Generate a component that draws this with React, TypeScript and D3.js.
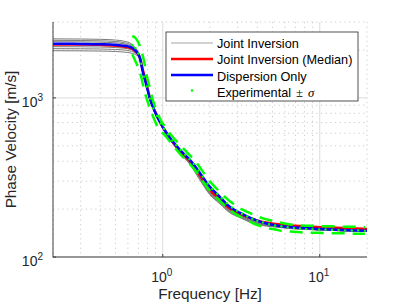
import React from 'react';
import * as d3 from 'd3';

const W = 407;
const H = 305;
const margin = { left: 53, right: 40, top: 22, bottom: 48 };

// model curves share one frequency grid [Hz]
const freq = [0.2, 0.3, 0.4, 0.5, 0.57, 0.63, 0.66, 0.69, 0.714, 0.746, 0.787, 0.826, 0.889, 0.981, 1.108, 1.283, 1.486, 1.72, 1.99, 2.31, 2.67, 3.09, 3.58, 4.15, 5.3, 7, 10, 14, 20];
const dispersionOnly = [2190, 2185, 2175, 2155, 2125, 2075, 2010, 1920, 1790, 1460, 1200, 1000, 825, 680, 563, 473, 409, 339, 277, 239, 207, 190, 177, 167, 158, 153, 150, 148, 146];
const jointMedian = [2170, 2165, 2155, 2130, 2095, 2045, 1985, 1905, 1800, 1510, 1230, 1010, 830, 680, 560, 468, 402, 328, 265, 230, 202, 187, 176, 168, 161, 157, 154, 152, 150];
const jointRuns = [
    [2350, 2345, 2335, 2310, 2270, 2190, 2100, 1980, 1830, 1480, 1200, 995, 815, 670, 555, 462, 396, 322, 262, 228, 199, 184, 172, 164, 156, 152, 149, 147, 145],
    [2300, 2295, 2285, 2262, 2225, 2150, 2070, 1965, 1820, 1475, 1195, 990, 812, 668, 552, 460, 393, 318, 258, 225, 197, 182, 170, 162, 155, 151, 148, 146, 145],
    [2255, 2250, 2240, 2220, 2185, 2120, 2045, 1950, 1810, 1470, 1190, 988, 810, 666, 550, 457, 390, 314, 255, 222, 195, 181, 169, 161, 155, 151, 148, 147, 145],
    [2100, 2096, 2088, 2072, 2050, 2010, 1965, 1900, 1790, 1475, 1195, 992, 815, 670, 553, 458, 390, 313, 252, 220, 193, 180, 168, 161, 156, 152, 149, 147, 146],
    [2040, 2036, 2030, 2016, 1998, 1965, 1930, 1875, 1775, 1465, 1190, 988, 812, 668, 550, 455, 386, 310, 250, 218, 191, 178, 167, 160, 155, 151, 148, 146, 145],
    [1980, 1976, 1970, 1958, 1940, 1912, 1885, 1840, 1755, 1455, 1185, 985, 808, 665, 548, 452, 383, 306, 247, 216, 190, 177, 166, 159, 154, 150, 148, 146, 145],
];

// experimental picks and +/- sigma bounds
const expFreq = [0.64, 0.67, 0.70, 0.73, 0.76, 0.79, 0.83, 0.87, 0.92, 0.97, 1.02, 1.08, 1.15, 1.22, 1.3, 1.39, 1.48, 1.58, 1.69, 1.8, 1.93, 2.07, 2.22, 2.38, 2.56, 2.76, 2.97, 3.2, 3.45, 3.72, 4.0, 4.35, 4.75, 5.2, 5.7, 6.25, 6.85, 7.5, 8.2, 9.0, 9.9, 10.9, 12, 13.2, 14.5, 16, 17.6, 19.4];
const expVel = [2150, 2060, 1900, 1640, 1360, 1180, 990, 860, 770, 690, 640, 590, 540, 505, 470, 440, 412, 385, 350, 320, 290, 268, 250, 234, 218, 205, 195, 187, 180, 174, 169, 165, 161, 158, 156, 154, 152, 151, 150, 150, 149, 149, 148, 148, 147, 147, 147, 146];
const expUpper = [2450, 2380, 2230, 1990, 1700, 1390, 1140, 950, 820, 725, 670, 620, 572, 536, 500, 468, 438, 410, 376, 344, 311, 287, 267, 250, 233, 219, 208, 199, 192, 186, 180, 175, 171, 167, 164, 161, 159, 158, 157, 157, 156, 156, 156, 155, 155, 155, 155, 154];
const expLower = [1880, 1700, 1540, 1350, 1130, 990, 860, 760, 670, 620, 590, 552, 508, 474, 440, 412, 386, 360, 328, 300, 272, 251, 234, 219, 205, 193, 184, 177, 170, 164, 159, 155, 151, 149, 146, 145, 144, 143, 142, 142, 142, 141, 141, 141, 141, 140, 140, 140];

const xMajor = [1, 10];
const xMajorExp = ['0', '1'];
const yMajor = [100, 1000];
const yMajorExp = ['2', '3'];

const legendLabels = ['Joint Inversion', 'Joint Inversion (Median)', 'Dispersion Only', 'Experimental'];

const FONT = '"Liberation Sans", Arial, Helvetica, sans-serif';

const isDecade = (t: number) => Math.abs(Math.log10(t) - Math.round(Math.log10(t))) < 1e-6;

const App = () => {
    const x0 = margin.left, x1 = W - margin.right;
    const y0 = margin.top, y1 = H - margin.bottom;

    const xScale = d3.scaleLog().domain([0.2, 20]).range([x0, x1]);
    const yScale = d3.scaleLog().domain([100, 3000]).range([y1, y0]);

    const line = d3.line<[number, number]>()
        .x(d => xScale(d[0]))
        .y(d => yScale(d[1]))
        .curve(d3.curveMonotoneX);

    const pair = (fs: number[], vs: number[]) => fs.map((f, i) => [f, vs[i]] as [number, number]);

    const xMinor = xScale.ticks().filter(t => !isDecade(t));
    const yMinor = yScale.ticks().filter(t => !isDecade(t));

    // legend
    const lg = { x: 166, y: 32, w: 192, h: 69 };
    const rowY = [43, 59, 75, 90.5];
    const textY = [47.5, 64, 80.5, 97];

    return (
        <svg width={W} height={H} style={{ position: 'absolute', left: 0, top: 0, background: '#fff' }}
             fontFamily={FONT}>
            {/* minor grid */}
            {xMinor.map((t, i) => (
                <line key={'xm' + i} x1={xScale(t)} x2={xScale(t)} y1={y0} y2={y1}
                      stroke="#b4b4b4" strokeWidth={0.7} strokeDasharray="1.2 3.5"/>
            ))}
            {yMinor.map((t, i) => (
                <line key={'ym' + i} x1={x0} x2={x1} y1={yScale(t)} y2={yScale(t)}
                      stroke="#b4b4b4" strokeWidth={0.7} strokeDasharray="1.2 3.5"/>
            ))}
            {/* major grid */}
            {xMajor.map((t, i) => (
                <line key={'xg' + i} x1={xScale(t)} x2={xScale(t)} y1={y0} y2={y1} stroke="#dcdcdc" strokeWidth={1}/>
            ))}
            {yMajor.map((t, i) => (
                <line key={'yg' + i} x1={x0} x2={x1} y1={yScale(t)} y2={yScale(t)} stroke="#dcdcdc" strokeWidth={1}/>
            ))}

            {/* joint inversion runs */}
            {jointRuns.map((run, i) => (
                <path key={'run' + i} d={line(pair(freq, run)) || ''} fill="none" stroke="#7a7a7a" strokeWidth={1}/>
            ))}
            <path d={line(pair(freq, jointMedian)) || ''} fill="none" stroke="#ff0000" strokeWidth={2.5}/>
            <path d={line(pair(freq, dispersionOnly)) || ''} fill="none" stroke="#0000ff" strokeWidth={2.5}/>

            {/* experimental */}
            <path d={line(pair(expFreq, expUpper)) || ''} fill="none" stroke="#00ff00" strokeWidth={2.5} strokeDasharray="13 8"/>
            <path d={line(pair(expFreq, expLower)) || ''} fill="none" stroke="#00ff00" strokeWidth={2.5} strokeDasharray="13 8"/>
            {expFreq.map((f, i) => (
                <circle key={'e' + i} cx={xScale(f)} cy={yScale(expVel[i])} r={1.2} fill="#00ff00"/>
            ))}

            {/* axes */}
            <line x1={x0} x2={x0} y1={y0} y2={y1 + 0.5} stroke="#404040" strokeWidth={1}/>
            <line x1={x0} x2={x1} y1={y1} y2={y1} stroke="#404040" strokeWidth={1}/>
            {xMajor.map((t, i) => (
                <line key={'xt' + i} x1={xScale(t)} x2={xScale(t)} y1={y1} y2={y1 - 3} stroke="#404040"/>
            ))}
            {yMajor.map((t, i) => (
                <line key={'yt' + i} x1={x0} x2={x0 + 3} y1={yScale(t)} y2={yScale(t)} stroke="#404040"/>
            ))}

            {/* tick labels */}
            {xMajor.map((t, i) => (
                <text key={'xl' + i} x={xScale(t) - 1} y={y1 + 25} textAnchor="middle" fontSize={14} fill="#262626">
                    10<tspan dy={-6} fontSize={10}>{xMajorExp[i]}</tspan>
                </text>
            ))}
            {yMajor.map((t, i) => (
                <text key={'yl' + i} x={x0 - 10} y={yScale(t) + 9} textAnchor="end" fontSize={14} fill="#262626">
                    10<tspan dy={-6} fontSize={10}>{yMajorExp[i]}</tspan>
                </text>
            ))}

            {/* axis labels */}
            <text x={(x0 + x1) / 2} y={299} textAnchor="middle" fontSize={15.3} fill="#262626">Frequency [Hz]</text>
            <text transform={`translate(16, ${(y0 + y1) / 2}) rotate(-90)`} textAnchor="middle" fontSize={15.3} fill="#262626">
                Phase Velocity [m/s]
            </text>

            {/* legend */}
            <rect x={lg.x} y={lg.y} width={lg.w} height={lg.h} fill="#fff" stroke="#262626" strokeWidth={0.8}/>
            <line x1={171} x2={213} y1={rowY[0]} y2={rowY[0]} stroke="#a6a6a6" strokeWidth={1.2}/>
            <line x1={171} x2={213} y1={rowY[1]} y2={rowY[1]} stroke="#ff0000" strokeWidth={2.5}/>
            <line x1={171} x2={213} y1={rowY[2]} y2={rowY[2]} stroke="#0000ff" strokeWidth={2.5}/>
            <circle cx={192} cy={rowY[3]} r={1.3} fill="#00ff00"/>
            {legendLabels.map((s, i) => (
                <text key={'lt' + i} x={217} y={textY[i]} fontSize={12.7} fill="#000">
                    {s}
                    {i === 3 ? (
                        <>
                            <tspan dx={5} fontFamily='"Liberation Serif", "DejaVu Serif", serif'>±</tspan>
                            <tspan dx={5} fontFamily='"Liberation Serif", "DejaVu Serif", serif' fontStyle="italic">σ</tspan>
                        </>
                    ) : null}
                </text>
            ))}
        </svg>
    );
};

export default App;
